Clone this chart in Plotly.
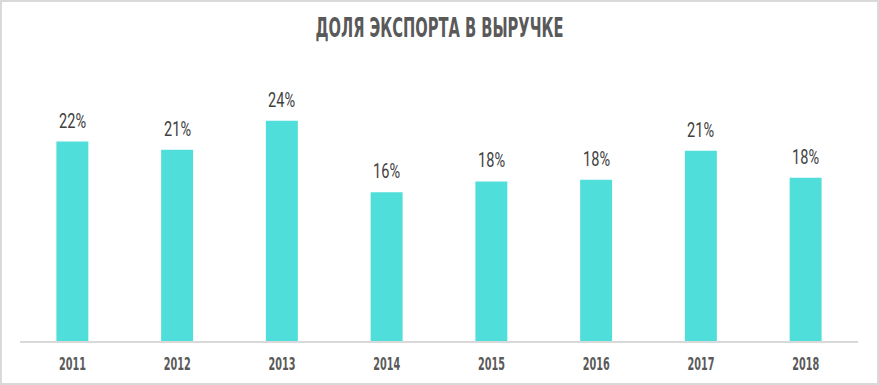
import plotly.graph_objects as go

years = ["2011", "2012", "2013", "2014", "2015", "2016", "2017", "2018"]
export_share = [22.0, 21.1, 24.3, 16.4, 17.6, 17.8, 21.0, 18.0]
title_text = "ДОЛЯ ЭКСПОРТА В ВЫРУЧКЕ"

W, H = 879, 385
ml, mr, mt, mb = 20, 21, 60, 44

cond = "DejaVu Sans Condensed, DejaVu Sans, sans-serif"

fig = go.Figure(go.Bar(
    x=years, y=export_share,
    marker=dict(color="#50DEDA", line=dict(width=0)),
    hoverinfo="skip",
))

# category axis: annotation x given as category index
for i, v in enumerate(export_share):
    fig.add_annotation(x=i, y=v, text=f"{v:.0f}%", showarrow=False,
                       yanchor="bottom", yshift=7,
                       font=dict(family="Roboto, sans-serif", size=20, color="#404040"))

pw = W - ml - mr
ph = H - mt - mb
def px_x(p): return (p - ml) / pw
def px_y(p): return (H - mb - p) / ph

fig.update_layout(
    width=W, height=H,
    margin=dict(l=ml, r=mr, t=mt, b=mb),
    paper_bgcolor="white", plot_bgcolor="white",
    bargap=0.695,
    showlegend=False,
    hovermode=False,
    title=dict(text=title_text, x=0.5, xanchor="center",
               y=1 - 28 / H, yanchor="middle", automargin=False,
               font=dict(family=cond, size=27, color="#595959", weight="bold")),
    xaxis=dict(type="category", range=[-0.5, len(years) - 0.5], automargin=False,
               showgrid=False, showline=True, linecolor="#D9D9D9",
               linewidth=2, ticks="",
               tickfont=dict(family=cond, size=18, color="#595959", weight="bold"),
               ticklabelstandoff=5),
    yaxis=dict(range=[0, 31], visible=False, showgrid=False, zeroline=False,
               automargin=False),
    shapes=[dict(type="rect", xref="paper", yref="paper",
                 x0=px_x(1), x1=px_x(878), y0=px_y(384), y1=px_y(1),
                 line=dict(color="#D9D9D9", width=2), layer="below")],
)

post = """
document.body.style.margin = '0';
var gd = document.getElementById('{plot_id}');
function squeeze(sel, target) {
  var els = gd.querySelectorAll(sel);
  if (!els.length) return;
  var f = target / els[0].getComputedTextLength();
  els.forEach(function (t) {
    var w = t.getComputedTextLength();
    t.setAttribute('textLength', (w * f).toFixed(2));
    t.setAttribute('lengthAdjust', 'spacingAndGlyphs');
  });
}
squeeze('.gtitle', 248);
squeeze('.xtick text', 27);
squeeze('.annotation-text', 27);
"""

fig.write_html("out.html", post_script=post, config={"displayModeBar": False})
